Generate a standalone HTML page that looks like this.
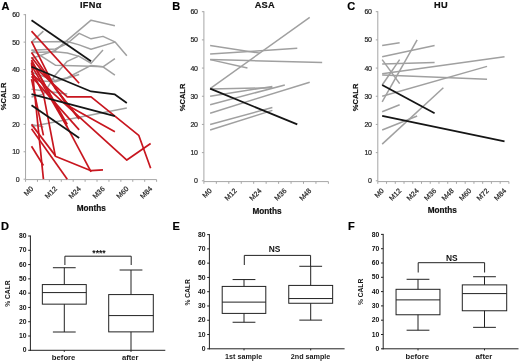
<!DOCTYPE html><html><head><meta charset="utf-8"><style>html,body{margin:0;padding:0;background:#fff;width:520px;height:362px;overflow:hidden}svg text{font-family:"Liberation Sans", sans-serif}</style></head><body><svg width="520" height="362" viewBox="0 0 520 362" style="display:block;font-family:'Liberation Sans', sans-serif;filter:blur(0.3px)">
<rect width="520" height="362" fill="#fff"/>
<line x1="25.55" y1="14.10" x2="25.55" y2="179.60" stroke="#a6a6a6" stroke-width="1"/>
<line x1="23.55" y1="179.20" x2="25.55" y2="179.20" stroke="#a6a6a6" stroke-width="1"/>
<text x="19.25" y="181.70" font-size="7" font-weight="normal" text-anchor="end" fill="#2a2a2a" letter-spacing="-0.35" stroke="#222" stroke-width="0.2">0</text>
<line x1="23.55" y1="151.78" x2="25.55" y2="151.78" stroke="#a6a6a6" stroke-width="1"/>
<text x="19.25" y="154.28" font-size="7" font-weight="normal" text-anchor="end" fill="#2a2a2a" letter-spacing="-0.35" stroke="#222" stroke-width="0.2">10</text>
<line x1="23.55" y1="124.37" x2="25.55" y2="124.37" stroke="#a6a6a6" stroke-width="1"/>
<text x="19.25" y="126.87" font-size="7" font-weight="normal" text-anchor="end" fill="#2a2a2a" letter-spacing="-0.35" stroke="#222" stroke-width="0.2">20</text>
<line x1="23.55" y1="96.95" x2="25.55" y2="96.95" stroke="#a6a6a6" stroke-width="1"/>
<text x="19.25" y="99.45" font-size="7" font-weight="normal" text-anchor="end" fill="#2a2a2a" letter-spacing="-0.35" stroke="#222" stroke-width="0.2">30</text>
<line x1="23.55" y1="69.53" x2="25.55" y2="69.53" stroke="#a6a6a6" stroke-width="1"/>
<text x="19.25" y="72.03" font-size="7" font-weight="normal" text-anchor="end" fill="#2a2a2a" letter-spacing="-0.35" stroke="#222" stroke-width="0.2">40</text>
<line x1="23.55" y1="42.12" x2="25.55" y2="42.12" stroke="#a6a6a6" stroke-width="1"/>
<text x="19.25" y="44.62" font-size="7" font-weight="normal" text-anchor="end" fill="#2a2a2a" letter-spacing="-0.35" stroke="#222" stroke-width="0.2">50</text>
<line x1="23.55" y1="14.70" x2="25.55" y2="14.70" stroke="#a6a6a6" stroke-width="1"/>
<text x="19.25" y="17.20" font-size="7" font-weight="normal" text-anchor="end" fill="#2a2a2a" letter-spacing="-0.35" stroke="#222" stroke-width="0.2">60</text>
<line x1="25.55" y1="179.60" x2="156.60" y2="179.60" stroke="#a6a6a6" stroke-width="1"/>
<line x1="25.55" y1="179.60" x2="25.55" y2="181.80" stroke="#a6a6a6" stroke-width="1"/>
<line x1="37.46" y1="179.60" x2="37.46" y2="181.80" stroke="#a6a6a6" stroke-width="1"/>
<line x1="49.38" y1="179.60" x2="49.38" y2="181.80" stroke="#a6a6a6" stroke-width="1"/>
<line x1="61.29" y1="179.60" x2="61.29" y2="181.80" stroke="#a6a6a6" stroke-width="1"/>
<line x1="73.20" y1="179.60" x2="73.20" y2="181.80" stroke="#a6a6a6" stroke-width="1"/>
<line x1="85.12" y1="179.60" x2="85.12" y2="181.80" stroke="#a6a6a6" stroke-width="1"/>
<line x1="97.03" y1="179.60" x2="97.03" y2="181.80" stroke="#a6a6a6" stroke-width="1"/>
<line x1="108.95" y1="179.60" x2="108.95" y2="181.80" stroke="#a6a6a6" stroke-width="1"/>
<line x1="120.86" y1="179.60" x2="120.86" y2="181.80" stroke="#a6a6a6" stroke-width="1"/>
<line x1="132.77" y1="179.60" x2="132.77" y2="181.80" stroke="#a6a6a6" stroke-width="1"/>
<line x1="144.69" y1="179.60" x2="144.69" y2="181.80" stroke="#a6a6a6" stroke-width="1"/>
<line x1="156.60" y1="179.60" x2="156.60" y2="181.80" stroke="#a6a6a6" stroke-width="1"/>
<text x="33.71" y="189.30" font-size="7.1" font-weight="normal" text-anchor="end" fill="#2a2a2a" stroke="#222" stroke-width="0.2" transform="rotate(-45 33.71 189.30)">M0</text>
<text x="57.53" y="189.30" font-size="7.1" font-weight="normal" text-anchor="end" fill="#2a2a2a" stroke="#222" stroke-width="0.2" transform="rotate(-45 57.53 189.30)">M12</text>
<text x="81.36" y="189.30" font-size="7.1" font-weight="normal" text-anchor="end" fill="#2a2a2a" stroke="#222" stroke-width="0.2" transform="rotate(-45 81.36 189.30)">M24</text>
<text x="105.19" y="189.30" font-size="7.1" font-weight="normal" text-anchor="end" fill="#2a2a2a" stroke="#222" stroke-width="0.2" transform="rotate(-45 105.19 189.30)">M36</text>
<text x="129.02" y="189.30" font-size="7.1" font-weight="normal" text-anchor="end" fill="#2a2a2a" stroke="#222" stroke-width="0.2" transform="rotate(-45 129.02 189.30)">M60</text>
<text x="152.84" y="189.30" font-size="7.1" font-weight="normal" text-anchor="end" fill="#2a2a2a" stroke="#222" stroke-width="0.2" transform="rotate(-45 152.84 189.30)">M84</text>
<polyline points="31.51,58.57 55.33,50.34 91.07,20.18 114.90,25.67" fill="none" stroke="#a0a0a0" stroke-width="1.5" stroke-linejoin="round" stroke-linecap="butt"/>
<polyline points="31.51,50.34 55.33,48.97 67.25,43.49 79.16,33.34 91.07,38.83 102.99,36.36 114.90,41.84 126.82,55.82" fill="none" stroke="#a0a0a0" stroke-width="1.5" stroke-linejoin="round" stroke-linecap="butt"/>
<polyline points="31.51,42.12 67.25,41.57 79.16,44.86 91.07,49.24 114.90,42.12" fill="none" stroke="#a0a0a0" stroke-width="1.5" stroke-linejoin="round" stroke-linecap="butt"/>
<polyline points="31.51,42.12 43.42,31.15" fill="none" stroke="#a0a0a0" stroke-width="1.5" stroke-linejoin="round" stroke-linecap="butt"/>
<polyline points="31.51,49.79 55.33,65.15 91.07,66.24 102.99,66.79 114.90,75.02" fill="none" stroke="#a0a0a0" stroke-width="1.5" stroke-linejoin="round" stroke-linecap="butt"/>
<polyline points="31.51,52.53 55.33,51.71 67.25,53.08 79.16,56.37 91.07,63.23 102.99,50.07" fill="none" stroke="#a0a0a0" stroke-width="1.5" stroke-linejoin="round" stroke-linecap="butt"/>
<polyline points="31.51,72.27 55.33,80.50 67.25,77.76 91.07,65.42 102.99,66.79 114.90,58.57" fill="none" stroke="#a0a0a0" stroke-width="1.5" stroke-linejoin="round" stroke-linecap="butt"/>
<polyline points="31.51,80.50 55.33,81.87 79.16,74.47" fill="none" stroke="#a0a0a0" stroke-width="1.5" stroke-linejoin="round" stroke-linecap="butt"/>
<polyline points="31.51,126.56 126.82,107.92" fill="none" stroke="#a0a0a0" stroke-width="1.5" stroke-linejoin="round" stroke-linecap="butt"/>
<polyline points="31.51,89.27 67.25,93.93" fill="none" stroke="#a0a0a0" stroke-width="1.5" stroke-linejoin="round" stroke-linecap="butt"/>
<polyline points="31.51,96.95 43.42,94.21 55.33,75.02 67.25,61.31 79.16,55.82" fill="none" stroke="#a0a0a0" stroke-width="1.5" stroke-linejoin="round" stroke-linecap="butt"/>
<polyline points="31.51,124.37 43.42,127.11" fill="none" stroke="#a0a0a0" stroke-width="1.5" stroke-linejoin="round" stroke-linecap="butt"/>
<polyline points="31.51,31.15 79.16,83.24" fill="none" stroke="#c8161f" stroke-width="1.7" stroke-linejoin="round" stroke-linecap="butt"/>
<polyline points="31.51,41.29 55.33,88.72 79.16,118.88" fill="none" stroke="#c8161f" stroke-width="1.7" stroke-linejoin="round" stroke-linecap="butt"/>
<polyline points="31.51,57.20 79.16,118.88" fill="none" stroke="#c8161f" stroke-width="1.7" stroke-linejoin="round" stroke-linecap="butt"/>
<polyline points="31.51,52.53 67.25,105.17 114.90,131.77" fill="none" stroke="#c8161f" stroke-width="1.7" stroke-linejoin="round" stroke-linecap="butt"/>
<polyline points="31.51,59.94 91.07,171.80" fill="none" stroke="#c8161f" stroke-width="1.7" stroke-linejoin="round" stroke-linecap="butt"/>
<polyline points="31.51,62.68 43.42,179.20" fill="none" stroke="#c8161f" stroke-width="1.7" stroke-linejoin="round" stroke-linecap="butt"/>
<polyline points="31.51,64.05 67.25,96.95 91.07,96.95 138.73,135.33 150.64,168.23" fill="none" stroke="#c8161f" stroke-width="1.7" stroke-linejoin="round" stroke-linecap="butt"/>
<polyline points="31.51,76.39 79.16,129.85" fill="none" stroke="#c8161f" stroke-width="1.7" stroke-linejoin="round" stroke-linecap="butt"/>
<polyline points="31.51,73.65 126.82,160.01 150.64,143.56" fill="none" stroke="#c8161f" stroke-width="1.7" stroke-linejoin="round" stroke-linecap="butt"/>
<polyline points="31.51,65.42 67.25,127.11" fill="none" stroke="#c8161f" stroke-width="1.7" stroke-linejoin="round" stroke-linecap="butt"/>
<polyline points="31.51,61.31 67.25,124.37" fill="none" stroke="#c8161f" stroke-width="1.7" stroke-linejoin="round" stroke-linecap="butt"/>
<polyline points="31.51,70.90 43.42,94.21 55.33,156.17 91.07,170.70 102.99,169.88" fill="none" stroke="#c8161f" stroke-width="1.7" stroke-linejoin="round" stroke-linecap="butt"/>
<polyline points="31.51,79.13 43.42,135.33" fill="none" stroke="#c8161f" stroke-width="1.7" stroke-linejoin="round" stroke-linecap="butt"/>
<polyline points="31.51,128.75 67.25,179.20" fill="none" stroke="#c8161f" stroke-width="1.7" stroke-linejoin="round" stroke-linecap="butt"/>
<polyline points="31.51,124.37 55.33,155.62" fill="none" stroke="#c8161f" stroke-width="1.7" stroke-linejoin="round" stroke-linecap="butt"/>
<polyline points="31.51,146.30 43.42,165.49" fill="none" stroke="#c8161f" stroke-width="1.7" stroke-linejoin="round" stroke-linecap="butt"/>
<polyline points="31.51,20.18 91.07,61.31" fill="none" stroke="#151515" stroke-width="1.75" stroke-linejoin="round" stroke-linecap="butt"/>
<polyline points="31.51,66.79 91.07,91.47 114.90,94.48 126.82,102.98" fill="none" stroke="#151515" stroke-width="1.75" stroke-linejoin="round" stroke-linecap="butt"/>
<polyline points="31.51,94.21 114.90,116.14" fill="none" stroke="#151515" stroke-width="1.75" stroke-linejoin="round" stroke-linecap="butt"/>
<polyline points="31.51,105.17 79.16,138.07" fill="none" stroke="#151515" stroke-width="1.75" stroke-linejoin="round" stroke-linecap="butt"/>
<text x="6.30" y="96.40" font-size="7.5" font-weight="bold" text-anchor="middle" fill="#111" transform="rotate(-90 6.30 96.40)" stroke="#111" stroke-width="0.2">%CALR</text>
<text x="91.20" y="211.20" font-size="8.2" font-weight="bold" text-anchor="middle" fill="#111"  stroke="#111" stroke-width="0.2">Months</text>
<text x="90.80" y="8.20" font-size="9.2" font-weight="bold" text-anchor="middle" fill="#111" letter-spacing="0.3" stroke="#111" stroke-width="0.2">IFN&#945;</text>
<text x="1.60" y="10.00" font-size="11" font-weight="bold" text-anchor="start" fill="#000"  stroke="#000" stroke-width="0.2">A</text>
<line x1="203.90" y1="11.20" x2="203.90" y2="181.60" stroke="#a6a6a6" stroke-width="1"/>
<line x1="201.90" y1="180.80" x2="203.90" y2="180.80" stroke="#a6a6a6" stroke-width="1"/>
<text x="197.60" y="183.30" font-size="7" font-weight="normal" text-anchor="end" fill="#2a2a2a" letter-spacing="-0.35" stroke="#222" stroke-width="0.2">0</text>
<line x1="201.90" y1="152.62" x2="203.90" y2="152.62" stroke="#a6a6a6" stroke-width="1"/>
<text x="197.60" y="155.12" font-size="7" font-weight="normal" text-anchor="end" fill="#2a2a2a" letter-spacing="-0.35" stroke="#222" stroke-width="0.2">10</text>
<line x1="201.90" y1="124.43" x2="203.90" y2="124.43" stroke="#a6a6a6" stroke-width="1"/>
<text x="197.60" y="126.93" font-size="7" font-weight="normal" text-anchor="end" fill="#2a2a2a" letter-spacing="-0.35" stroke="#222" stroke-width="0.2">20</text>
<line x1="201.90" y1="96.25" x2="203.90" y2="96.25" stroke="#a6a6a6" stroke-width="1"/>
<text x="197.60" y="98.75" font-size="7" font-weight="normal" text-anchor="end" fill="#2a2a2a" letter-spacing="-0.35" stroke="#222" stroke-width="0.2">30</text>
<line x1="201.90" y1="68.07" x2="203.90" y2="68.07" stroke="#a6a6a6" stroke-width="1"/>
<text x="197.60" y="70.57" font-size="7" font-weight="normal" text-anchor="end" fill="#2a2a2a" letter-spacing="-0.35" stroke="#222" stroke-width="0.2">40</text>
<line x1="201.90" y1="39.88" x2="203.90" y2="39.88" stroke="#a6a6a6" stroke-width="1"/>
<text x="197.60" y="42.38" font-size="7" font-weight="normal" text-anchor="end" fill="#2a2a2a" letter-spacing="-0.35" stroke="#222" stroke-width="0.2">50</text>
<line x1="201.90" y1="11.70" x2="203.90" y2="11.70" stroke="#a6a6a6" stroke-width="1"/>
<text x="197.60" y="14.20" font-size="7" font-weight="normal" text-anchor="end" fill="#2a2a2a" letter-spacing="-0.35" stroke="#222" stroke-width="0.2">60</text>
<line x1="203.90" y1="181.60" x2="328.40" y2="181.60" stroke="#a6a6a6" stroke-width="1"/>
<line x1="203.90" y1="181.60" x2="203.90" y2="183.80" stroke="#a6a6a6" stroke-width="1"/>
<line x1="216.35" y1="181.60" x2="216.35" y2="183.80" stroke="#a6a6a6" stroke-width="1"/>
<line x1="228.80" y1="181.60" x2="228.80" y2="183.80" stroke="#a6a6a6" stroke-width="1"/>
<line x1="241.25" y1="181.60" x2="241.25" y2="183.80" stroke="#a6a6a6" stroke-width="1"/>
<line x1="253.70" y1="181.60" x2="253.70" y2="183.80" stroke="#a6a6a6" stroke-width="1"/>
<line x1="266.15" y1="181.60" x2="266.15" y2="183.80" stroke="#a6a6a6" stroke-width="1"/>
<line x1="278.60" y1="181.60" x2="278.60" y2="183.80" stroke="#a6a6a6" stroke-width="1"/>
<line x1="291.05" y1="181.60" x2="291.05" y2="183.80" stroke="#a6a6a6" stroke-width="1"/>
<line x1="303.50" y1="181.60" x2="303.50" y2="183.80" stroke="#a6a6a6" stroke-width="1"/>
<line x1="315.95" y1="181.60" x2="315.95" y2="183.80" stroke="#a6a6a6" stroke-width="1"/>
<line x1="328.40" y1="181.60" x2="328.40" y2="183.80" stroke="#a6a6a6" stroke-width="1"/>
<text x="212.32" y="191.30" font-size="7.1" font-weight="normal" text-anchor="end" fill="#2a2a2a" stroke="#222" stroke-width="0.2" transform="rotate(-45 212.32 191.30)">M0</text>
<text x="237.22" y="191.30" font-size="7.1" font-weight="normal" text-anchor="end" fill="#2a2a2a" stroke="#222" stroke-width="0.2" transform="rotate(-45 237.22 191.30)">M12</text>
<text x="262.12" y="191.30" font-size="7.1" font-weight="normal" text-anchor="end" fill="#2a2a2a" stroke="#222" stroke-width="0.2" transform="rotate(-45 262.12 191.30)">M24</text>
<text x="287.02" y="191.30" font-size="7.1" font-weight="normal" text-anchor="end" fill="#2a2a2a" stroke="#222" stroke-width="0.2" transform="rotate(-45 287.02 191.30)">M36</text>
<text x="311.92" y="191.30" font-size="7.1" font-weight="normal" text-anchor="end" fill="#2a2a2a" stroke="#222" stroke-width="0.2" transform="rotate(-45 311.92 191.30)">M48</text>
<polyline points="210.12,45.52 259.93,53.13" fill="none" stroke="#a0a0a0" stroke-width="1.5" stroke-linejoin="round" stroke-linecap="butt"/>
<polyline points="210.12,53.97 297.27,48.34" fill="none" stroke="#a0a0a0" stroke-width="1.5" stroke-linejoin="round" stroke-linecap="butt"/>
<polyline points="210.12,59.61 322.17,62.43" fill="none" stroke="#a0a0a0" stroke-width="1.5" stroke-linejoin="round" stroke-linecap="butt"/>
<polyline points="210.12,59.61 247.47,68.07" fill="none" stroke="#a0a0a0" stroke-width="1.5" stroke-linejoin="round" stroke-linecap="butt"/>
<polyline points="210.12,88.64 309.72,17.34" fill="none" stroke="#a0a0a0" stroke-width="1.5" stroke-linejoin="round" stroke-linecap="butt"/>
<polyline points="210.12,88.92 272.38,87.79" fill="none" stroke="#a0a0a0" stroke-width="1.5" stroke-linejoin="round" stroke-linecap="butt"/>
<polyline points="210.12,96.25 272.38,86.39" fill="none" stroke="#a0a0a0" stroke-width="1.5" stroke-linejoin="round" stroke-linecap="butt"/>
<polyline points="210.12,104.70 284.82,84.98" fill="none" stroke="#a0a0a0" stroke-width="1.5" stroke-linejoin="round" stroke-linecap="butt"/>
<polyline points="210.12,113.16 309.72,82.16" fill="none" stroke="#a0a0a0" stroke-width="1.5" stroke-linejoin="round" stroke-linecap="butt"/>
<polyline points="210.12,124.43 272.38,107.52" fill="none" stroke="#a0a0a0" stroke-width="1.5" stroke-linejoin="round" stroke-linecap="butt"/>
<polyline points="210.12,130.07 272.38,110.34" fill="none" stroke="#a0a0a0" stroke-width="1.5" stroke-linejoin="round" stroke-linecap="butt"/>
<polyline points="210.12,88.64 297.27,124.43" fill="none" stroke="#151515" stroke-width="1.75" stroke-linejoin="round" stroke-linecap="butt"/>
<text x="185.40" y="97.40" font-size="7.5" font-weight="bold" text-anchor="middle" fill="#111" transform="rotate(-90 185.40 97.40)" stroke="#111" stroke-width="0.2">%CALR</text>
<text x="267.00" y="213.50" font-size="8.2" font-weight="bold" text-anchor="middle" fill="#111"  stroke="#111" stroke-width="0.2">Months</text>
<text x="264.80" y="8.20" font-size="9.2" font-weight="bold" text-anchor="middle" fill="#111" letter-spacing="0.3" stroke="#111" stroke-width="0.2">ASA</text>
<text x="172.20" y="10.00" font-size="11" font-weight="bold" text-anchor="start" fill="#000"  stroke="#000" stroke-width="0.2">B</text>
<line x1="377.80" y1="11.20" x2="377.80" y2="181.60" stroke="#a6a6a6" stroke-width="1"/>
<line x1="375.80" y1="180.80" x2="377.80" y2="180.80" stroke="#a6a6a6" stroke-width="1"/>
<text x="371.50" y="183.30" font-size="7" font-weight="normal" text-anchor="end" fill="#2a2a2a" letter-spacing="-0.35" stroke="#222" stroke-width="0.2">0</text>
<line x1="375.80" y1="152.62" x2="377.80" y2="152.62" stroke="#a6a6a6" stroke-width="1"/>
<text x="371.50" y="155.12" font-size="7" font-weight="normal" text-anchor="end" fill="#2a2a2a" letter-spacing="-0.35" stroke="#222" stroke-width="0.2">10</text>
<line x1="375.80" y1="124.43" x2="377.80" y2="124.43" stroke="#a6a6a6" stroke-width="1"/>
<text x="371.50" y="126.93" font-size="7" font-weight="normal" text-anchor="end" fill="#2a2a2a" letter-spacing="-0.35" stroke="#222" stroke-width="0.2">20</text>
<line x1="375.80" y1="96.25" x2="377.80" y2="96.25" stroke="#a6a6a6" stroke-width="1"/>
<text x="371.50" y="98.75" font-size="7" font-weight="normal" text-anchor="end" fill="#2a2a2a" letter-spacing="-0.35" stroke="#222" stroke-width="0.2">30</text>
<line x1="375.80" y1="68.07" x2="377.80" y2="68.07" stroke="#a6a6a6" stroke-width="1"/>
<text x="371.50" y="70.57" font-size="7" font-weight="normal" text-anchor="end" fill="#2a2a2a" letter-spacing="-0.35" stroke="#222" stroke-width="0.2">40</text>
<line x1="375.80" y1="39.88" x2="377.80" y2="39.88" stroke="#a6a6a6" stroke-width="1"/>
<text x="371.50" y="42.38" font-size="7" font-weight="normal" text-anchor="end" fill="#2a2a2a" letter-spacing="-0.35" stroke="#222" stroke-width="0.2">50</text>
<line x1="375.80" y1="11.70" x2="377.80" y2="11.70" stroke="#a6a6a6" stroke-width="1"/>
<text x="371.50" y="14.20" font-size="7" font-weight="normal" text-anchor="end" fill="#2a2a2a" letter-spacing="-0.35" stroke="#222" stroke-width="0.2">60</text>
<line x1="377.80" y1="181.60" x2="508.90" y2="181.60" stroke="#a6a6a6" stroke-width="1"/>
<line x1="377.80" y1="181.60" x2="377.80" y2="183.80" stroke="#a6a6a6" stroke-width="1"/>
<line x1="386.54" y1="181.60" x2="386.54" y2="183.80" stroke="#a6a6a6" stroke-width="1"/>
<line x1="395.28" y1="181.60" x2="395.28" y2="183.80" stroke="#a6a6a6" stroke-width="1"/>
<line x1="404.02" y1="181.60" x2="404.02" y2="183.80" stroke="#a6a6a6" stroke-width="1"/>
<line x1="412.76" y1="181.60" x2="412.76" y2="183.80" stroke="#a6a6a6" stroke-width="1"/>
<line x1="421.50" y1="181.60" x2="421.50" y2="183.80" stroke="#a6a6a6" stroke-width="1"/>
<line x1="430.24" y1="181.60" x2="430.24" y2="183.80" stroke="#a6a6a6" stroke-width="1"/>
<line x1="438.98" y1="181.60" x2="438.98" y2="183.80" stroke="#a6a6a6" stroke-width="1"/>
<line x1="447.72" y1="181.60" x2="447.72" y2="183.80" stroke="#a6a6a6" stroke-width="1"/>
<line x1="456.46" y1="181.60" x2="456.46" y2="183.80" stroke="#a6a6a6" stroke-width="1"/>
<line x1="465.20" y1="181.60" x2="465.20" y2="183.80" stroke="#a6a6a6" stroke-width="1"/>
<line x1="473.94" y1="181.60" x2="473.94" y2="183.80" stroke="#a6a6a6" stroke-width="1"/>
<line x1="482.68" y1="181.60" x2="482.68" y2="183.80" stroke="#a6a6a6" stroke-width="1"/>
<line x1="491.42" y1="181.60" x2="491.42" y2="183.80" stroke="#a6a6a6" stroke-width="1"/>
<line x1="500.16" y1="181.60" x2="500.16" y2="183.80" stroke="#a6a6a6" stroke-width="1"/>
<line x1="508.90" y1="181.60" x2="508.90" y2="183.80" stroke="#a6a6a6" stroke-width="1"/>
<text x="384.37" y="191.30" font-size="7.1" font-weight="normal" text-anchor="end" fill="#2a2a2a" stroke="#222" stroke-width="0.2" transform="rotate(-45 384.37 191.30)">M0</text>
<text x="401.85" y="191.30" font-size="7.1" font-weight="normal" text-anchor="end" fill="#2a2a2a" stroke="#222" stroke-width="0.2" transform="rotate(-45 401.85 191.30)">M12</text>
<text x="419.33" y="191.30" font-size="7.1" font-weight="normal" text-anchor="end" fill="#2a2a2a" stroke="#222" stroke-width="0.2" transform="rotate(-45 419.33 191.30)">M24</text>
<text x="436.81" y="191.30" font-size="7.1" font-weight="normal" text-anchor="end" fill="#2a2a2a" stroke="#222" stroke-width="0.2" transform="rotate(-45 436.81 191.30)">M36</text>
<text x="454.29" y="191.30" font-size="7.1" font-weight="normal" text-anchor="end" fill="#2a2a2a" stroke="#222" stroke-width="0.2" transform="rotate(-45 454.29 191.30)">M48</text>
<text x="471.77" y="191.30" font-size="7.1" font-weight="normal" text-anchor="end" fill="#2a2a2a" stroke="#222" stroke-width="0.2" transform="rotate(-45 471.77 191.30)">M60</text>
<text x="489.25" y="191.30" font-size="7.1" font-weight="normal" text-anchor="end" fill="#2a2a2a" stroke="#222" stroke-width="0.2" transform="rotate(-45 489.25 191.30)">M72</text>
<text x="506.73" y="191.30" font-size="7.1" font-weight="normal" text-anchor="end" fill="#2a2a2a" stroke="#222" stroke-width="0.2" transform="rotate(-45 506.73 191.30)">M84</text>
<polyline points="382.17,45.52 399.65,42.70" fill="none" stroke="#a0a0a0" stroke-width="1.5" stroke-linejoin="round" stroke-linecap="butt"/>
<polyline points="382.17,56.79 434.61,45.52" fill="none" stroke="#a0a0a0" stroke-width="1.5" stroke-linejoin="round" stroke-linecap="butt"/>
<polyline points="382.17,59.61 399.65,83.57" fill="none" stroke="#a0a0a0" stroke-width="1.5" stroke-linejoin="round" stroke-linecap="butt"/>
<polyline points="382.17,64.12 434.61,62.43" fill="none" stroke="#a0a0a0" stroke-width="1.5" stroke-linejoin="round" stroke-linecap="butt"/>
<polyline points="382.17,73.70 504.53,56.79" fill="none" stroke="#a0a0a0" stroke-width="1.5" stroke-linejoin="round" stroke-linecap="butt"/>
<polyline points="382.17,75.11 487.05,79.34" fill="none" stroke="#a0a0a0" stroke-width="1.5" stroke-linejoin="round" stroke-linecap="butt"/>
<polyline points="382.17,84.98 399.65,59.61" fill="none" stroke="#a0a0a0" stroke-width="1.5" stroke-linejoin="round" stroke-linecap="butt"/>
<polyline points="382.17,101.89 417.13,39.88" fill="none" stroke="#a0a0a0" stroke-width="1.5" stroke-linejoin="round" stroke-linecap="butt"/>
<polyline points="382.17,96.25 487.05,66.38" fill="none" stroke="#a0a0a0" stroke-width="1.5" stroke-linejoin="round" stroke-linecap="butt"/>
<polyline points="382.17,111.75 399.65,104.70" fill="none" stroke="#a0a0a0" stroke-width="1.5" stroke-linejoin="round" stroke-linecap="butt"/>
<polyline points="382.17,144.16 443.35,87.79" fill="none" stroke="#a0a0a0" stroke-width="1.5" stroke-linejoin="round" stroke-linecap="butt"/>
<polyline points="382.17,130.07 417.13,115.98" fill="none" stroke="#a0a0a0" stroke-width="1.5" stroke-linejoin="round" stroke-linecap="butt"/>
<polyline points="382.17,84.98 434.61,113.16" fill="none" stroke="#151515" stroke-width="1.75" stroke-linejoin="round" stroke-linecap="butt"/>
<polyline points="382.17,115.98 504.53,141.34" fill="none" stroke="#151515" stroke-width="1.75" stroke-linejoin="round" stroke-linecap="butt"/>
<text x="358.00" y="97.40" font-size="7.5" font-weight="bold" text-anchor="middle" fill="#111" transform="rotate(-90 358.00 97.40)" stroke="#111" stroke-width="0.2">%CALR</text>
<text x="442.20" y="213.30" font-size="8.2" font-weight="bold" text-anchor="middle" fill="#111"  stroke="#111" stroke-width="0.2">Months</text>
<text x="440.90" y="8.20" font-size="9.2" font-weight="bold" text-anchor="middle" fill="#111" letter-spacing="0.3" stroke="#111" stroke-width="0.2">HU</text>
<text x="347.20" y="10.00" font-size="11" font-weight="bold" text-anchor="start" fill="#000"  stroke="#000" stroke-width="0.2">C</text>
<line x1="30.40" y1="235.50" x2="30.40" y2="350.80" stroke="#222" stroke-width="1"/>
<line x1="29.90" y1="350.30" x2="165.30" y2="350.30" stroke="#222" stroke-width="1"/>
<line x1="28.20" y1="350.30" x2="30.40" y2="350.30" stroke="#222" stroke-width="1"/>
<text x="26.60" y="352.40" font-size="6.8" font-weight="bold" text-anchor="end" fill="#111" >0</text>
<line x1="28.20" y1="336.01" x2="30.40" y2="336.01" stroke="#222" stroke-width="1"/>
<text x="26.60" y="338.11" font-size="6.8" font-weight="bold" text-anchor="end" fill="#111" >10</text>
<line x1="28.20" y1="321.73" x2="30.40" y2="321.73" stroke="#222" stroke-width="1"/>
<text x="26.60" y="323.83" font-size="6.8" font-weight="bold" text-anchor="end" fill="#111" >20</text>
<line x1="28.20" y1="307.44" x2="30.40" y2="307.44" stroke="#222" stroke-width="1"/>
<text x="26.60" y="309.54" font-size="6.8" font-weight="bold" text-anchor="end" fill="#111" >30</text>
<line x1="28.20" y1="293.15" x2="30.40" y2="293.15" stroke="#222" stroke-width="1"/>
<text x="26.60" y="295.25" font-size="6.8" font-weight="bold" text-anchor="end" fill="#111" >40</text>
<line x1="28.20" y1="278.86" x2="30.40" y2="278.86" stroke="#222" stroke-width="1"/>
<text x="26.60" y="280.96" font-size="6.8" font-weight="bold" text-anchor="end" fill="#111" >50</text>
<line x1="28.20" y1="264.57" x2="30.40" y2="264.57" stroke="#222" stroke-width="1"/>
<text x="26.60" y="266.68" font-size="6.8" font-weight="bold" text-anchor="end" fill="#111" >60</text>
<line x1="28.20" y1="250.29" x2="30.40" y2="250.29" stroke="#222" stroke-width="1"/>
<text x="26.60" y="252.39" font-size="6.8" font-weight="bold" text-anchor="end" fill="#111" >70</text>
<line x1="28.20" y1="236.00" x2="30.40" y2="236.00" stroke="#222" stroke-width="1"/>
<text x="26.60" y="238.10" font-size="6.8" font-weight="bold" text-anchor="end" fill="#111" >80</text>
<line x1="64.30" y1="350.30" x2="64.30" y2="351.90" stroke="#222" stroke-width="1"/>
<line x1="64.30" y1="267.72" x2="64.30" y2="284.58" stroke="#222" stroke-width="1"/>
<line x1="64.30" y1="304.15" x2="64.30" y2="332.01" stroke="#222" stroke-width="1"/>
<line x1="52.90" y1="267.72" x2="75.70" y2="267.72" stroke="#222" stroke-width="1"/>
<line x1="52.90" y1="332.01" x2="75.70" y2="332.01" stroke="#222" stroke-width="1"/>
<rect x="42.35" y="284.58" width="43.90" height="19.57" fill="none" stroke="#222" stroke-width="1"/>
<line x1="42.35" y1="292.58" x2="86.25" y2="292.58" stroke="#222" stroke-width="1"/>
<text x="63.60" y="360.20" font-size="7.7" font-weight="bold" text-anchor="middle" fill="#1a1a1a" >before</text>
<line x1="131.00" y1="350.30" x2="131.00" y2="351.90" stroke="#222" stroke-width="1"/>
<line x1="131.00" y1="270.00" x2="131.00" y2="294.58" stroke="#222" stroke-width="1"/>
<line x1="131.00" y1="331.87" x2="131.00" y2="350.30" stroke="#222" stroke-width="1"/>
<line x1="119.60" y1="270.00" x2="142.40" y2="270.00" stroke="#222" stroke-width="1"/>
<rect x="108.70" y="294.58" width="44.60" height="37.29" fill="none" stroke="#222" stroke-width="1"/>
<line x1="108.70" y1="315.58" x2="153.30" y2="315.58" stroke="#222" stroke-width="1"/>
<text x="130.30" y="360.20" font-size="7.7" font-weight="bold" text-anchor="middle" fill="#1a1a1a" >after</text>
<polyline points="64.90,265.00 64.90,256.20 131.20,256.20 131.20,265.00" fill="none" stroke="#222" stroke-width="1" stroke-linejoin="round" stroke-linecap="butt"/>
<text x="99.00" y="255.70" font-size="8.6" font-weight="bold" text-anchor="middle" fill="#111" >****</text>
<text x="9.90" y="293.60" font-size="6.7" font-weight="bold" text-anchor="middle" fill="#1a1a1a"  transform="rotate(-90 9.90 293.60)">% CALR</text>
<text x="1.00" y="230.30" font-size="11" font-weight="bold" text-anchor="start" fill="#000"  stroke="#000" stroke-width="0.2">D</text>
<line x1="209.40" y1="234.10" x2="209.40" y2="349.30" stroke="#222" stroke-width="1"/>
<line x1="208.90" y1="348.80" x2="344.60" y2="348.80" stroke="#222" stroke-width="1"/>
<line x1="207.20" y1="348.80" x2="209.40" y2="348.80" stroke="#222" stroke-width="1"/>
<text x="205.60" y="350.90" font-size="6.8" font-weight="bold" text-anchor="end" fill="#111" >0</text>
<line x1="207.20" y1="334.53" x2="209.40" y2="334.53" stroke="#222" stroke-width="1"/>
<text x="205.60" y="336.63" font-size="6.8" font-weight="bold" text-anchor="end" fill="#111" >10</text>
<line x1="207.20" y1="320.25" x2="209.40" y2="320.25" stroke="#222" stroke-width="1"/>
<text x="205.60" y="322.35" font-size="6.8" font-weight="bold" text-anchor="end" fill="#111" >20</text>
<line x1="207.20" y1="305.98" x2="209.40" y2="305.98" stroke="#222" stroke-width="1"/>
<text x="205.60" y="308.08" font-size="6.8" font-weight="bold" text-anchor="end" fill="#111" >30</text>
<line x1="207.20" y1="291.70" x2="209.40" y2="291.70" stroke="#222" stroke-width="1"/>
<text x="205.60" y="293.80" font-size="6.8" font-weight="bold" text-anchor="end" fill="#111" >40</text>
<line x1="207.20" y1="277.43" x2="209.40" y2="277.43" stroke="#222" stroke-width="1"/>
<text x="205.60" y="279.53" font-size="6.8" font-weight="bold" text-anchor="end" fill="#111" >50</text>
<line x1="207.20" y1="263.15" x2="209.40" y2="263.15" stroke="#222" stroke-width="1"/>
<text x="205.60" y="265.25" font-size="6.8" font-weight="bold" text-anchor="end" fill="#111" >60</text>
<line x1="207.20" y1="248.88" x2="209.40" y2="248.88" stroke="#222" stroke-width="1"/>
<text x="205.60" y="250.97" font-size="6.8" font-weight="bold" text-anchor="end" fill="#111" >70</text>
<line x1="207.20" y1="234.60" x2="209.40" y2="234.60" stroke="#222" stroke-width="1"/>
<text x="205.60" y="236.70" font-size="6.8" font-weight="bold" text-anchor="end" fill="#111" >80</text>
<line x1="244.00" y1="348.80" x2="244.00" y2="350.40" stroke="#222" stroke-width="1"/>
<line x1="244.00" y1="279.57" x2="244.00" y2="286.42" stroke="#222" stroke-width="1"/>
<line x1="244.00" y1="313.40" x2="244.00" y2="322.25" stroke="#222" stroke-width="1"/>
<line x1="232.60" y1="279.57" x2="255.40" y2="279.57" stroke="#222" stroke-width="1"/>
<line x1="232.60" y1="322.25" x2="255.40" y2="322.25" stroke="#222" stroke-width="1"/>
<rect x="222.20" y="286.42" width="43.60" height="26.98" fill="none" stroke="#222" stroke-width="1"/>
<line x1="222.20" y1="302.12" x2="265.80" y2="302.12" stroke="#222" stroke-width="1"/>
<text x="243.60" y="358.70" font-size="7.2" font-weight="bold" text-anchor="middle" fill="#1a1a1a" >1st sample</text>
<line x1="310.70" y1="348.80" x2="310.70" y2="350.40" stroke="#222" stroke-width="1"/>
<line x1="310.70" y1="266.29" x2="310.70" y2="285.42" stroke="#222" stroke-width="1"/>
<line x1="310.70" y1="303.26" x2="310.70" y2="320.11" stroke="#222" stroke-width="1"/>
<line x1="299.30" y1="266.29" x2="322.10" y2="266.29" stroke="#222" stroke-width="1"/>
<line x1="299.30" y1="320.11" x2="322.10" y2="320.11" stroke="#222" stroke-width="1"/>
<rect x="288.75" y="285.42" width="43.90" height="17.84" fill="none" stroke="#222" stroke-width="1"/>
<line x1="288.75" y1="298.55" x2="332.65" y2="298.55" stroke="#222" stroke-width="1"/>
<text x="310.60" y="358.70" font-size="7.2" font-weight="bold" text-anchor="middle" fill="#1a1a1a" >2nd sample</text>
<polyline points="244.30,265.00 244.30,255.40 310.60,255.40 310.60,266.40" fill="none" stroke="#222" stroke-width="1" stroke-linejoin="round" stroke-linecap="butt"/>
<text x="274.50" y="251.60" font-size="8.4" font-weight="bold" text-anchor="middle" fill="#111" >NS</text>
<text x="189.60" y="292.40" font-size="6.7" font-weight="bold" text-anchor="middle" fill="#1a1a1a"  transform="rotate(-90 189.60 292.40)">% CALR</text>
<text x="172.50" y="230.30" font-size="11" font-weight="bold" text-anchor="start" fill="#000"  stroke="#000" stroke-width="0.2">E</text>
<line x1="383.20" y1="233.90" x2="383.20" y2="349.30" stroke="#222" stroke-width="1"/>
<line x1="382.70" y1="348.80" x2="518.50" y2="348.80" stroke="#222" stroke-width="1"/>
<line x1="381.00" y1="348.80" x2="383.20" y2="348.80" stroke="#222" stroke-width="1"/>
<text x="379.40" y="350.90" font-size="6.8" font-weight="bold" text-anchor="end" fill="#111" >0</text>
<line x1="381.00" y1="334.50" x2="383.20" y2="334.50" stroke="#222" stroke-width="1"/>
<text x="379.40" y="336.60" font-size="6.8" font-weight="bold" text-anchor="end" fill="#111" >10</text>
<line x1="381.00" y1="320.20" x2="383.20" y2="320.20" stroke="#222" stroke-width="1"/>
<text x="379.40" y="322.30" font-size="6.8" font-weight="bold" text-anchor="end" fill="#111" >20</text>
<line x1="381.00" y1="305.90" x2="383.20" y2="305.90" stroke="#222" stroke-width="1"/>
<text x="379.40" y="308.00" font-size="6.8" font-weight="bold" text-anchor="end" fill="#111" >30</text>
<line x1="381.00" y1="291.60" x2="383.20" y2="291.60" stroke="#222" stroke-width="1"/>
<text x="379.40" y="293.70" font-size="6.8" font-weight="bold" text-anchor="end" fill="#111" >40</text>
<line x1="381.00" y1="277.30" x2="383.20" y2="277.30" stroke="#222" stroke-width="1"/>
<text x="379.40" y="279.40" font-size="6.8" font-weight="bold" text-anchor="end" fill="#111" >50</text>
<line x1="381.00" y1="263.00" x2="383.20" y2="263.00" stroke="#222" stroke-width="1"/>
<text x="379.40" y="265.10" font-size="6.8" font-weight="bold" text-anchor="end" fill="#111" >60</text>
<line x1="381.00" y1="248.70" x2="383.20" y2="248.70" stroke="#222" stroke-width="1"/>
<text x="379.40" y="250.80" font-size="6.8" font-weight="bold" text-anchor="end" fill="#111" >70</text>
<line x1="381.00" y1="234.40" x2="383.20" y2="234.40" stroke="#222" stroke-width="1"/>
<text x="379.40" y="236.50" font-size="6.8" font-weight="bold" text-anchor="end" fill="#111" >80</text>
<line x1="418.00" y1="348.80" x2="418.00" y2="350.40" stroke="#222" stroke-width="1"/>
<line x1="418.00" y1="279.30" x2="418.00" y2="289.31" stroke="#222" stroke-width="1"/>
<line x1="418.00" y1="314.77" x2="418.00" y2="330.21" stroke="#222" stroke-width="1"/>
<line x1="406.60" y1="279.30" x2="429.40" y2="279.30" stroke="#222" stroke-width="1"/>
<line x1="406.60" y1="330.21" x2="429.40" y2="330.21" stroke="#222" stroke-width="1"/>
<rect x="396.05" y="289.31" width="43.90" height="25.45" fill="none" stroke="#222" stroke-width="1"/>
<line x1="396.05" y1="299.89" x2="439.95" y2="299.89" stroke="#222" stroke-width="1"/>
<text x="417.30" y="358.80" font-size="7.7" font-weight="bold" text-anchor="middle" fill="#1a1a1a" >before</text>
<line x1="484.50" y1="348.80" x2="484.50" y2="350.40" stroke="#222" stroke-width="1"/>
<line x1="484.50" y1="276.73" x2="484.50" y2="284.88" stroke="#222" stroke-width="1"/>
<line x1="484.50" y1="310.76" x2="484.50" y2="327.35" stroke="#222" stroke-width="1"/>
<line x1="473.10" y1="276.73" x2="495.90" y2="276.73" stroke="#222" stroke-width="1"/>
<line x1="473.10" y1="327.35" x2="495.90" y2="327.35" stroke="#222" stroke-width="1"/>
<rect x="462.30" y="284.88" width="44.40" height="25.88" fill="none" stroke="#222" stroke-width="1"/>
<line x1="462.30" y1="293.60" x2="506.70" y2="293.60" stroke="#222" stroke-width="1"/>
<text x="483.90" y="358.80" font-size="7.7" font-weight="bold" text-anchor="middle" fill="#1a1a1a" >after</text>
<polyline points="418.20,272.50 418.20,262.70 484.60,262.70 484.60,272.50" fill="none" stroke="#222" stroke-width="1" stroke-linejoin="round" stroke-linecap="butt"/>
<text x="451.80" y="261.00" font-size="8.4" font-weight="bold" text-anchor="middle" fill="#111" >NS</text>
<text x="363.20" y="291.90" font-size="6.7" font-weight="bold" text-anchor="middle" fill="#1a1a1a"  transform="rotate(-90 363.20 291.90)">% CALR</text>
<text x="348.00" y="230.30" font-size="11" font-weight="bold" text-anchor="start" fill="#000"  stroke="#000" stroke-width="0.2">F</text>
</svg></body></html>
